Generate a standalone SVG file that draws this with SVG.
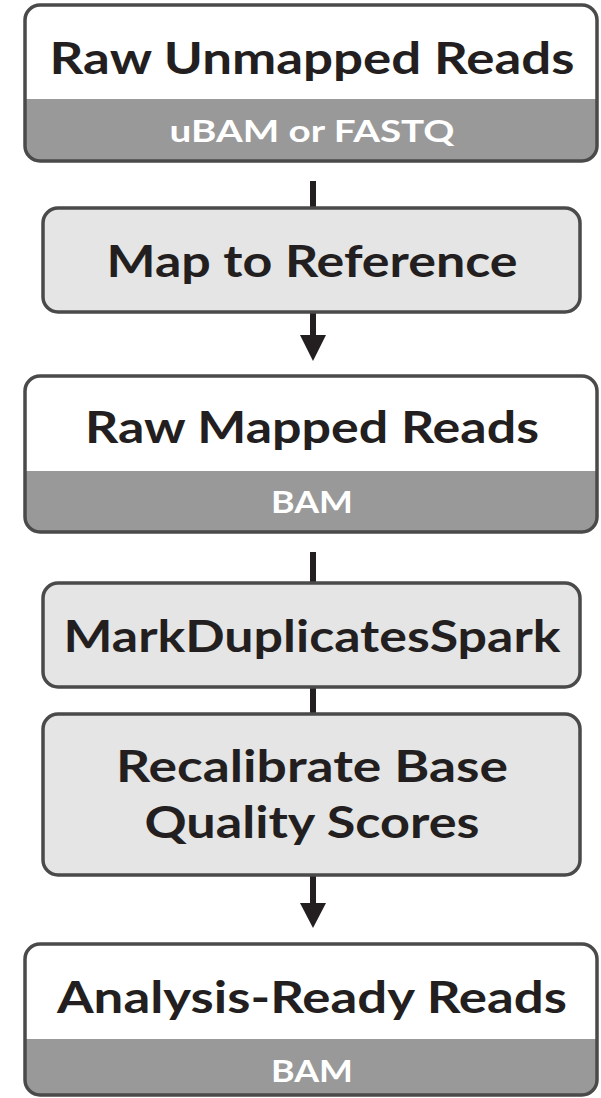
<svg xmlns="http://www.w3.org/2000/svg" width="601" height="1098" viewBox="0 0 601 1098">
<defs>
<style>
.box{stroke:#4a4a4a;stroke-width:3.5}
.w{fill:#fff}
.g{fill:#e5e5e5}
.sub{fill:#999}
.t{font-family:Lato,"Noto Sans",sans-serif;font-weight:700;font-size:43px;fill:#231f20;text-anchor:middle}
.s{font-family:Lato,"Noto Sans",sans-serif;font-weight:700;font-size:30px;fill:#fff;text-anchor:middle}
.ln{stroke:#231f20;stroke-width:6;fill:none}
.ah{fill:#231f20}
</style>
<clipPath id="c1"><rect x="25" y="5" width="572" height="156" rx="15"/></clipPath>
<clipPath id="c3"><rect x="25" y="376" width="572" height="156" rx="15"/></clipPath>
<clipPath id="c6"><rect x="25" y="944" width="572" height="151" rx="15"/></clipPath>
</defs>
<rect width="601" height="1098" fill="#fff"/>
<g id="connectors">
<line class="ln" x1="313" y1="181" x2="313" y2="208"/>
<line class="ln" x1="313" y1="312" x2="313" y2="338"/>
<polygon class="ah" points="300,335 326,335 313,361"/>
<line class="ln" x1="313" y1="552" x2="313" y2="583"/>
<line class="ln" x1="313" y1="687" x2="313" y2="714"/>
<line class="ln" x1="313" y1="875" x2="313" y2="906"/>
<polygon class="ah" points="300,903 326,903 313,928"/>
</g>
<g id="raw-unmapped">
<g clip-path="url(#c1)"><rect class="w" x="25" y="5" width="572" height="156"/><rect class="sub" x="25" y="99" width="572" height="62"/></g>
<rect class="box" fill="none" x="25" y="5" width="572" height="156" rx="15"/>
<text class="t" x="312" y="74" textLength="525" lengthAdjust="spacingAndGlyphs">Raw Unmapped Reads</text>
<text class="s" x="312" y="142" textLength="285" lengthAdjust="spacingAndGlyphs">uBAM or FASTQ</text>
</g>
<g id="map-ref">
<rect class="box g" x="43" y="208" width="537" height="104" rx="15"/>
<text class="t" x="312" y="277" textLength="411" lengthAdjust="spacingAndGlyphs">Map to Reference</text>
</g>
<g id="raw-mapped">
<g clip-path="url(#c3)"><rect class="w" x="25" y="376" width="572" height="156"/><rect class="sub" x="25" y="471" width="572" height="61"/></g>
<rect class="box" fill="none" x="25" y="376" width="572" height="156" rx="15"/>
<text class="t" x="312" y="443" textLength="454" lengthAdjust="spacingAndGlyphs">Raw Mapped Reads</text>
<text class="s" x="312" y="513" textLength="82" lengthAdjust="spacingAndGlyphs">BAM</text>
</g>
<g id="markdup">
<rect class="box g" x="43" y="583" width="537" height="104" rx="15"/>
<text class="t" x="312" y="652" textLength="497" lengthAdjust="spacingAndGlyphs">MarkDuplicatesSpark</text>
</g>
<g id="bqsr">
<rect class="box g" x="43" y="714" width="537" height="161" rx="15"/>
<text class="t" x="312" y="782" textLength="392" lengthAdjust="spacingAndGlyphs">Recalibrate Base</text>
<text class="t" x="312" y="838" textLength="335" lengthAdjust="spacingAndGlyphs">Quality Scores</text>
</g>
<g id="analysis-ready">
<g clip-path="url(#c6)"><rect class="w" x="25" y="944" width="572" height="151"/><rect class="sub" x="25" y="1039" width="572" height="56"/></g>
<rect class="box" fill="none" x="25" y="944" width="572" height="151" rx="15"/>
<text class="t" x="312" y="1013" textLength="510" lengthAdjust="spacingAndGlyphs">Analysis-Ready Reads</text>
<text class="s" x="312" y="1082" textLength="82" lengthAdjust="spacingAndGlyphs">BAM</text>
</g>
</svg>
